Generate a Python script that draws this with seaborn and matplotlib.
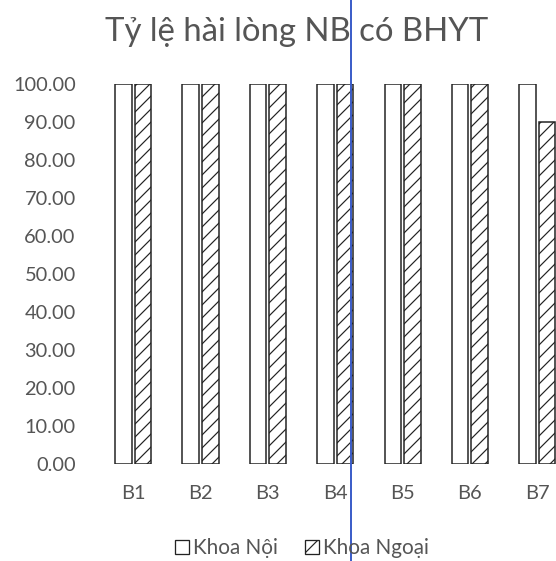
import matplotlib
matplotlib.use("Agg")
import matplotlib.pyplot as plt
from matplotlib.patches import Patch
from matplotlib.lines import Line2D
import seaborn as sns
import pandas as pd

# ========= DATA =========
categories = ["B1", "B2", "B3", "B4", "B5", "B6", "B7"]
khoa_noi = [100, 100, 100, 100, 100, 100, 100]
khoa_ngoai = [100, 100, 100, 100, 100, 100, 90]
series_names = ["Khoa Nội", "Khoa Ngoại"]
y_ticks = [0, 10, 20, 30, 40, 50, 60, 70, 80, 90, 100]

df = pd.DataFrame({
    "cau": categories * 2,
    "ty_le": khoa_noi + khoa_ngoai,
    "khoa": [series_names[0]] * len(categories) + [series_names[1]] * len(categories),
})

# ========= STYLE =========
sns.set_style("white")
plt.rcParams["font.family"] = ["Lato", "Noto Sans", "DejaVu Sans"]
plt.rcParams["hatch.linewidth"] = 1.1
text_color = "#555555"

DPI = 78
fig = plt.figure(figsize=(556 / DPI, 561 / DPI), dpi=DPI)
ax = fig.add_axes([99.5 / 556, 1 - 464 / 561, 471.5 / 556, 380 / 561])

sns.barplot(
    data=df, x="cau", y="ty_le", hue="khoa",
    palette=["white", "white"], edgecolor="#222222", linewidth=1.4,
    width=0.58, gap=0.15, legend=False, ax=ax,
)
for bar in ax.containers[1]:
    bar.set_hatch("//")

ax.set_ylim(0, 100)
ax.set_xlim(-0.5, 6.5)
ax.set_yticks(y_ticks)
ax.set_yticklabels([f"{v:.2f}" for v in y_ticks])
ax.set_xlabel("")
ax.set_ylabel("")
ax.tick_params(axis="y", length=0, pad=22, labelsize=18.5, labelcolor=text_color)
ax.tick_params(axis="x", length=0, pad=19, labelsize=18.5, labelcolor=text_color)
sns.despine(ax=ax, left=True, bottom=True)

fig.text(297 / 556, 1 - 32 / 561, "Tỷ lệ hài lòng NB có BHYT",
         ha="center", va="center", fontsize=30.3, color=text_color)

handles = [
    Patch(facecolor="white", edgecolor="#222222", linewidth=1.2, label=series_names[0]),
    Patch(facecolor="white", edgecolor="#222222", linewidth=1.2, hatch="/", label=series_names[1]),
]
fig.legend(handles=handles, loc="center", bbox_to_anchor=(302 / 556, 1 - 548 / 561),
           ncol=2, frameon=False, fontsize=19, labelcolor=text_color,
           handlelength=0.7, handleheight=0.7, handletextpad=0.2, columnspacing=1.3)

# blue vertical line visible on the scanned page
fig.add_artist(Line2D([351 / 556, 351 / 556], [0, 1], transform=fig.transFigure,
                      color="#3a5cc8", linewidth=1.8))

plt.savefig("out.png", dpi=DPI)
